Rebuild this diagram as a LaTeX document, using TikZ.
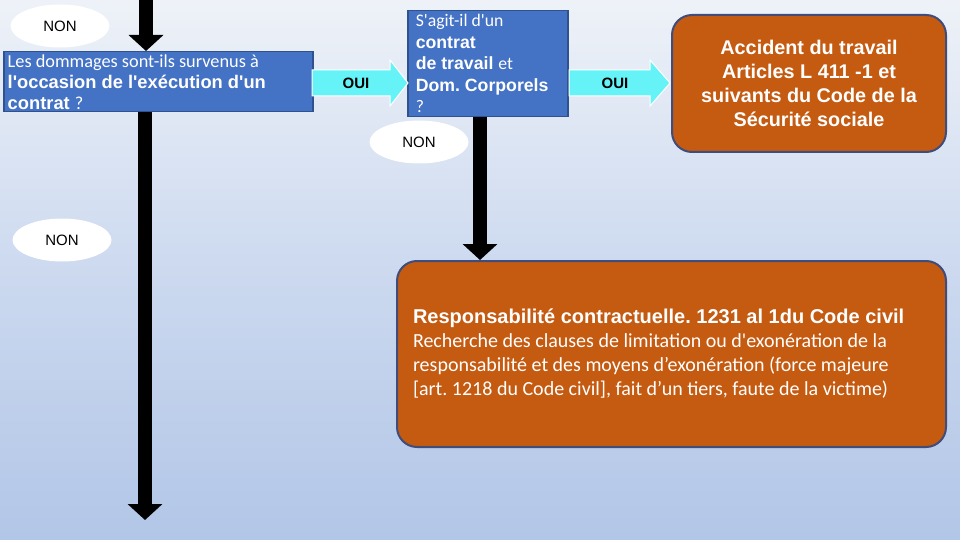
\documentclass[tikz,border=0pt]{standalone}
\usepackage{fontspec}
\setmainfont{Liberation Sans}
\newfontfamily\calfont{Carlito}
\newfontfamily\arifont{Liberation Sans}
\usetikzlibrary{arrows.meta,shapes.geometric}
\definecolor{bluebox}{HTML}{4472C4}
\definecolor{blueline}{HTML}{2F528F}
\definecolor{orangebox}{HTML}{C55A11}
\definecolor{orangeline}{HTML}{404C7A}
\definecolor{cyanarrow}{HTML}{66F3F7}
\definecolor{bgtop}{HTML}{EEF2F8}
\definecolor{bgmid}{HTML}{CCD9EF}
\definecolor{bgbot}{HTML}{B2C6E7}
\frenchspacing
\begin{document}
\frenchspacing
\begin{tikzpicture}[x=1pt,y=-1pt,
  bluebx/.style={draw=blueline, line width=1.5pt, fill=bluebox, text=white, anchor=north west, align=flush left, inner ysep=0pt},
  orangebx/.style={draw=orangeline, line width=2pt, fill=orangebox, text=white, anchor=north west, rounded corners=20pt},
  nonlbl/.style={ellipse, fill=white, minimum width=99pt, minimum height=43pt, inner sep=0pt, font=\arifont\fontsize{15}{18}\selectfont},
  ouilbl/.style={inner sep=0pt, font=\arifont\bfseries\fontsize{15}{18}\selectfont},
  cyanarr/.style={fill=cyanarrow, draw=white, line width=1pt},
  blackarr/.style={line width=14pt, -{Triangle[width=34pt,length=16pt]}}
]
\useasboundingbox (0,0) rectangle (960,540);
\shade[top color=bgtop, bottom color=bgbot, middle color=bgmid] (0,0) rectangle (960,540);

% boxes
\node[bluebx, minimum width=309pt, minimum height=60pt, text width=301pt, inner xsep=4pt,
  font=\fontsize{18.3}{21}\selectfont\frenchspacing] (b1) at (3,51)
  {{\calfont Les dommages sont-ils survenus à}\\
   {\arifont\bfseries l'occasion de l'exécution d'un}\\
   {\arifont\bfseries contrat} {\calfont ?}};

\node[bluebx, minimum width=160pt, minimum height=106pt, text width=144pt, inner xsep=8pt,
  font=\fontsize{17.7}{21.5}\selectfont\frenchspacing] (b2) at (407,10)
  {{\calfont S'agit-il d'un}\\
   {\arifont\bfseries contrat}\\
   {\arifont\bfseries de travail} {\calfont et}\\
   {\arifont\bfseries Dom. Corporels}\\
   {\calfont ?}};

\node[orangebx, minimum width=274pt, minimum height=137pt, align=center,
  font=\arifont\bfseries\fontsize{19.8}{24}\selectfont] (b3) at (671,14)
  {Accident du travail\\Articles L 411 -1 et\\suivants du Code de la\\Sécurité sociale};

\node[orangebx, minimum width=549pt, minimum height=186pt, text width=517pt, inner xsep=16pt, align=flush left,
  font=\fontsize{20}{24}\selectfont\frenchspacing] (b4) at (396,260)
  {{\arifont\bfseries Responsabilité contractuelle. 1231 al 1du Code civil}\\
   {\calfont Recherche des clauses de limitation ou d'exonération de la}\\
   {\calfont responsabilité et des moyens d’exonération (force majeure}\\
   {\calfont [art. 1218 du Code civil], fait d’un tiers, faute de la victime)}};

% black arrows
\coordinate (topstart) at (146,0);
\coordinate (longend) at (145,520);
\draw[blackarr] (topstart) -- (topstart |- b1.north);
\draw[blackarr] (longend |- b1.south) -- (longend);
\coordinate (midx) at (480,0);
\draw[blackarr] (midx |- b2.south) -- (midx |- b4.north);

% cyan arrows
\path[cyanarr] (312,70) -- (390,70) -- (390,60) -- (408,83) -- (390,106) -- (390,96) -- (312,96) -- cycle;
\node[ouilbl] (oui1) at (356,83) {OUI};
\path[cyanarr] (569,70) -- (650,70) -- (650,60) -- (670,83) -- (650,106) -- (650,96) -- (569,96) -- cycle;
\node[ouilbl] (oui2) at (615,83) {OUI};

% NON labels
\node[nonlbl] (non1) at (60,26) {NON};
\node[nonlbl] (non2) at (62,240) {NON};
\node[nonlbl] (non3) at (419,142) {NON};
\end{tikzpicture}
\end{document}
